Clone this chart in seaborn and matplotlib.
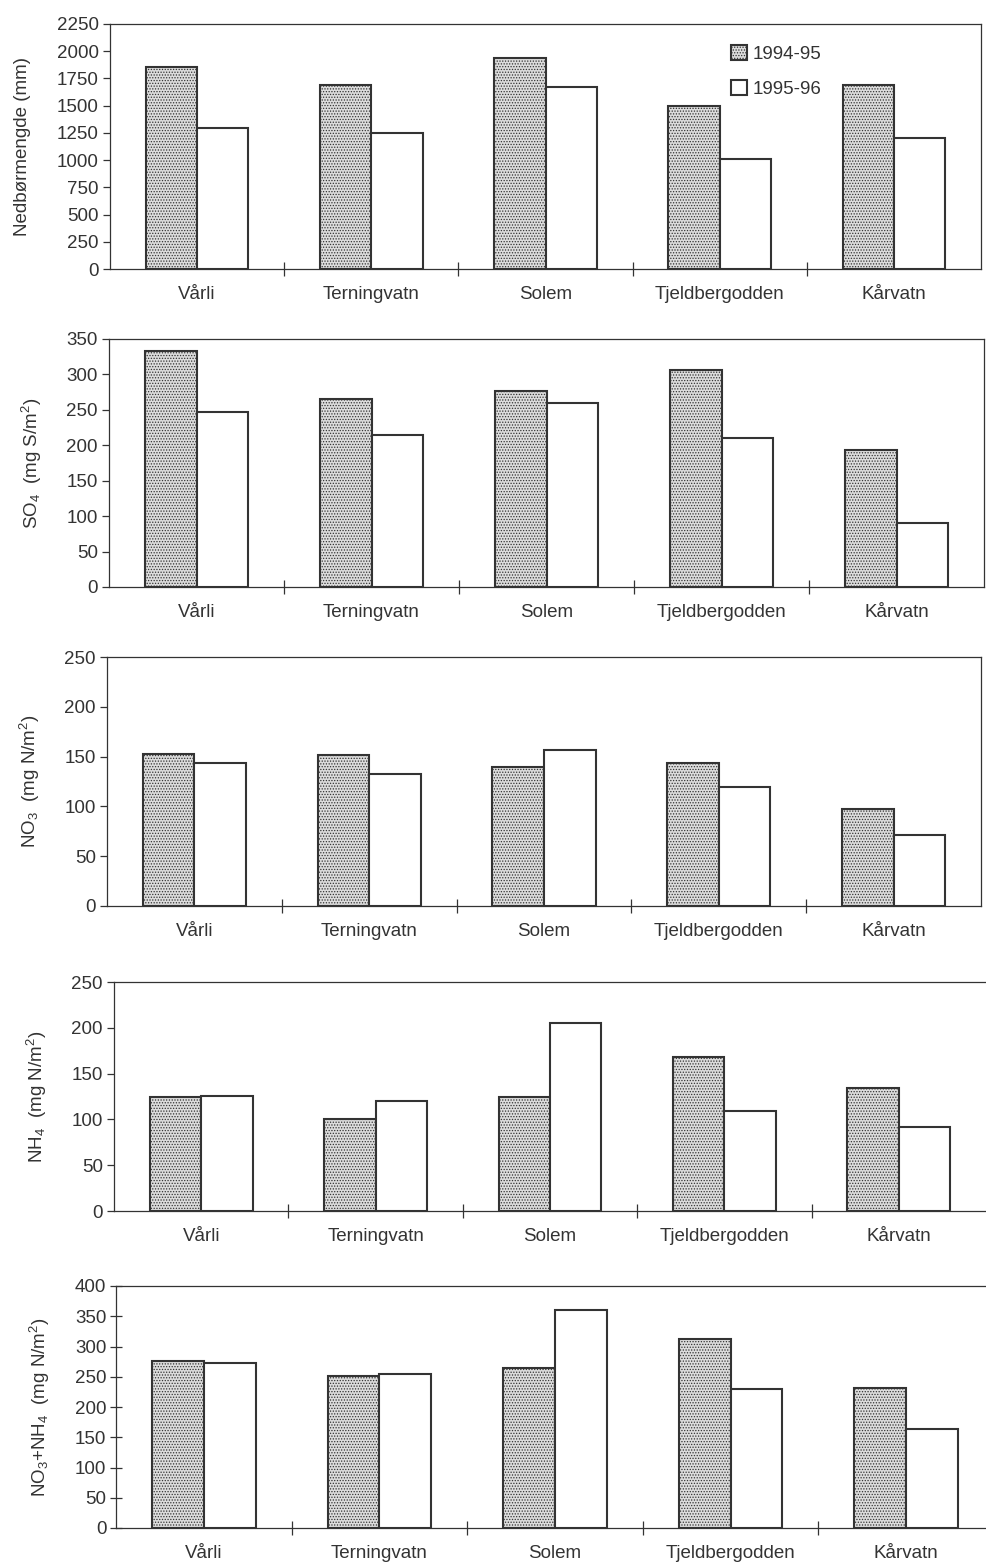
import numpy as np
import pandas as pd
import seaborn as sns
import matplotlib.pyplot as plt

stations = ["Vårli", "Terningvatn", "Solem", "Tjeldbergodden", "Kårvatn"]
seasons = ["1994-95", "1995-96"]

# nedbørmengde (mm)
precip_9495 = [1855, 1690, 1937, 1497, 1690]
precip_9596 = [1294, 1249, 1671, 1010, 1203]
# SO4 (mg S/m2)
so4_9495 = [333, 265, 277, 306, 194]
so4_9596 = [247, 215, 259, 210, 91]
# NO3 (mg N/m2)
no3_9495 = [153, 152, 140, 144, 97]
no3_9596 = [144, 133, 157, 119, 71]
# NH4 (mg N/m2)
nh4_9495 = [125, 100, 124, 168, 134]
nh4_9596 = [126, 120, 205, 109, 92]
# NO3+NH4 (mg N/m2)
tot_9495 = [276, 251, 265, 312, 232]
tot_9596 = [272, 254, 361, 230, 164]

panels = [
    ("Nedbørmengde (mm)", precip_9495, precip_9596, 2250, 250),
    ("SO$_4$  (mg S/m$^2$)", so4_9495, so4_9596, 350, 50),
    ("NO$_3$  (mg N/m$^2$)", no3_9495, no3_9596, 250, 50),
    ("NH$_4$  (mg N/m$^2$)", nh4_9495, nh4_9596, 250, 50),
    ("NO$_3$+NH$_4$  (mg N/m$^2$)", tot_9495, tot_9596, 400, 50),
]

# axes boxes in pixels: left, top, right, bottom ; ylabel x
boxes = [
    (110, 24, 981, 269, 23),
    (109, 339, 984, 587, 32),
    (107, 657, 981, 906, 30),
    (114, 982, 986, 1211, 37),
    (116, 1286, 994, 1528, 40),
]

sns.set_style("ticks")
plt.rcParams["font.family"] = ["Liberation Sans", "DejaVu Sans"]
plt.rcParams["mathtext.default"] = "regular"
plt.rcParams["hatch.linewidth"] = 0.6
ink = "#333333"
fs = 13.5

W, H = 986, 1568
fig = plt.figure(figsize=(W / 100, H / 100), dpi=100)

for i, ((ylab, a, b, ymax, step), (l, t, r, btm, lx)) in enumerate(zip(panels, boxes)):
    ax = fig.add_axes([l / W, 1 - btm / H, (r - l) / W, (btm - t) / H])
    df = pd.DataFrame({
        "station": stations * 2,
        "season": [seasons[0]] * 5 + [seasons[1]] * 5,
        "value": a + b,
    })
    sns.barplot(data=df, x="station", y="value", hue="season",
                palette=["#dcdcdc", "white"], width=0.59, ax=ax,
                edgecolor=ink, linewidth=1.5, legend=False, saturation=1)
    for bar in ax.containers[0]:
        bar.set_hatch("......")
    ax.set_xlim(-0.5, 4.5)
    ax.set_ylim(0, ymax)
    ax.set_yticks(np.arange(0, ymax + 1, step))
    ax.set_xticks([0.5, 1.5, 2.5, 3.5])
    ax.set_xticklabels([])
    ax.set_xticks(range(5), minor=True)
    ax.set_xticklabels(stations, minor=True)
    ax.tick_params(axis="x", which="major", direction="inout", length=10, width=0.9, color=ink)
    ax.tick_params(axis="x", which="minor", length=0, pad=12, labelsize=fs, labelcolor=ink)
    ydir = "inout" if i == 4 else "out"
    ax.tick_params(axis="y", direction=ydir, length=8 if i == 4 else 5, width=0.9,
                   color=ink, labelsize=fs, labelcolor=ink, pad=3)
    ax.set_xlabel("")
    ax.set_ylabel("")
    for side in ["left", "bottom", "top", "right"]:
        ax.spines[side].set_color(ink)
        ax.spines[side].set_linewidth(0.9)
    if i >= 3:
        ax.spines["right"].set_visible(False)
    fig.text(lx / W, 1 - (t + btm) / 2 / H, ylab, rotation=90, ha="center",
             va="center", fontsize=fs, color=ink)
    if i == 0:
        ax.legend(handles=[ax.containers[0][0], ax.containers[1][0]], labels=seasons,
                  loc="upper left", bbox_to_anchor=(0.694, 0.985), frameon=False,
                  handlelength=0.85, handleheight=0.85, handletextpad=0.3,
                  labelspacing=0.95, fontsize=fs, labelcolor=ink)

fig.savefig("out.png", dpi=100)
